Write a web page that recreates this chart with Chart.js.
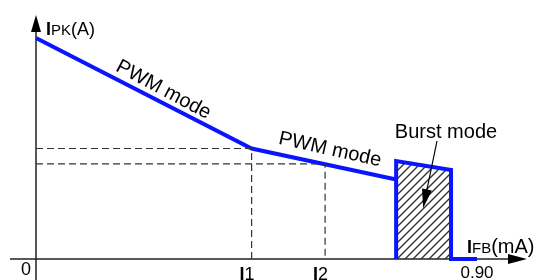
<!DOCTYPE html>
<html lang="en">
  <head>
    <meta charset="UTF-8" />
    <title>IPK vs IFB</title>
    <script src="https://cdn.jsdelivr.net/npm/chart.js"></script>
    <style>
      body { margin: 0; background: #fff; }
    </style>
  </head>
  <body>
    <canvas id="modeChart" width="543" height="280"></canvas>

    <script>
      // PWM mode curve (IFB in mA, IPK normalised)
      const pwmX = [0, 0.44, 0.735];
      const pwmY = [1.0, 0.5, 0.36];

      // burst mode block
      const burstX = [0.735, 0.735, 0.847, 0.847, 0.9];
      const burstY = [0, 0.443, 0.403, 0, 0];

      // dashed guides at I1 and I2
      const guideI1X = [0, 0.44, 0.44];
      const guideI1Y = [0.5, 0.5, 0];
      const guideI2X = [0, 0.59, 0.59];
      const guideI2Y = [0.43, 0.43, 0];

      const tickValues = [0.44, 0.59, 0.9];
      const tickLabels = [["I", "1"], ["I", "2"], ["", "0.90"]];

      const FONT = '"Liberation Sans", Arial, sans-serif';

      function pts(xs, ys) {
        return xs.map((x, i) => ({ x: x, y: ys[i] }));
      }

      // hatch pattern for the burst area
      const pc = document.createElement("canvas");
      pc.width = 8;
      pc.height = 8;
      const g = pc.getContext("2d");
      g.strokeStyle = "#333";
      g.lineWidth = 1.4;
      g.beginPath();
      g.moveTo(0, 8); g.lineTo(8, 0);
      g.moveTo(-2, 2); g.lineTo(2, -2);
      g.moveTo(6, 10); g.lineTo(10, 6);
      g.stroke();

      const ctx = document.getElementById("modeChart").getContext("2d");
      const hatch = ctx.createPattern(pc, "repeat");

      function rich(c, parts, x, y) {
        let cx = x;
        parts.forEach(([text, font]) => {
          c.font = font;
          c.fillText(text, cx, y);
          cx += c.measureText(text).width;
        });
      }

      const axesPlugin = {
        id: "axes",
        beforeDatasetsDraw(chart) {
          const c = chart.ctx;
          const xs = chart.scales.x, ys = chart.scales.y;
          const x0 = xs.getPixelForValue(0), y0 = ys.getPixelForValue(0);
          c.save();
          c.strokeStyle = "#222";
          c.fillStyle = "#000";
          c.lineWidth = 1.5;
          c.beginPath();
          c.moveTo(x0, 280);
          c.lineTo(x0, 28);
          c.moveTo(10, y0);
          c.lineTo(512, y0);
          c.stroke();
          // arrow heads
          c.beginPath();
          c.moveTo(x0, 15); c.lineTo(x0 - 5, 32); c.lineTo(x0 + 5, 32);
          c.closePath(); c.fill();
          c.beginPath();
          c.moveTo(527, y0); c.lineTo(508, y0 - 5); c.lineTo(508, y0 + 5);
          c.closePath(); c.fill();
          c.restore();
        },
        afterDatasetsDraw(chart) {
          const c = chart.ctx;
          const xs = chart.scales.x, ys = chart.scales.y;
          const px = (x, y) => [xs.getPixelForValue(x), ys.getPixelForValue(y)];
          c.save();
          c.fillStyle = "#000";
          c.textBaseline = "alphabetic";
          c.textAlign = "left";

          // axis titles
          rich(c, [["I", "bold 18px " + FONT], ["PK", "15px " + FONT], ["(A)", "18px " + FONT]], 46, 35);
          rich(c, [["I", "bold 18px " + FONT], ["FB", "15px " + FONT], ["(mA)", "20px " + FONT]], 467, 253);

          // origin and ticks
          c.textAlign = "center";
          c.font = "18px " + FONT;
          c.fillText("0", 26, 275);
          tickValues.forEach((v, i) => {
            const [tx] = px(v, 0);
            const [a, b] = tickLabels[i];
            if (a) {
              c.textAlign = "left";
              rich(c, [[a, "bold 18px " + FONT], [b, "18px " + FONT]], tx - 12, 280);
            } else {
              c.textAlign = "center";
              c.font = "17px " + FONT;
              c.fillText(b, tx, 278);
            }
          });

          // mode labels
          c.textAlign = "center";
          c.textBaseline = "middle";
          c.font = "20px " + FONT;
          let [lx, ly] = px(0.26, 0.765);
          c.save();
          c.translate(lx, ly);
          c.rotate((28 * Math.PI) / 180);
          c.fillText("PWM mode", 0, 0);
          c.restore();

          [lx, ly] = px(0.6, 0.495);
          c.save();
          c.translate(lx, ly);
          c.rotate((12.5 * Math.PI) / 180);
          c.fillText("PWM mode", 0, 0);
          c.restore();

          c.textBaseline = "alphabetic";
          c.fillText("Burst mode", 446, 138);

          // pointer into burst block
          const [ax, ay] = px(0.79, 0.23);
          const sx = 437, sy = 141;
          const dx = ax - sx, dy = ay - sy, len = Math.hypot(dx, dy);
          const ux = dx / len, uy = dy / len;
          c.strokeStyle = "#000";
          c.lineWidth = 1.2;
          c.beginPath();
          c.moveTo(sx, sy);
          c.lineTo(ax - ux * 16, ay - uy * 16);
          c.stroke();
          c.beginPath();
          c.moveTo(ax, ay);
          c.lineTo(ax - ux * 19 - uy * 5, ay - uy * 19 + ux * 5);
          c.lineTo(ax - ux * 19 + uy * 5, ay - uy * 19 - ux * 5);
          c.closePath();
          c.fill();
          c.restore();
        },
      };

      const dashed = {
        borderColor: "#333",
        borderWidth: 1.2,
        borderDash: [7, 4],
        pointRadius: 0,
        showLine: true,
        fill: false,
      };

      new Chart(ctx, {
        type: "scatter",
        data: {
          datasets: [
            {
              data: pts(burstX, burstY),
              borderColor: "#0a14ff",
              borderWidth: 4,
              borderJoinStyle: "miter",
              backgroundColor: hatch,
              fill: "origin",
              pointRadius: 0,
              showLine: true,
            },
            Object.assign({ data: pts(guideI1X, guideI1Y) }, dashed),
            Object.assign({ data: pts(guideI2X, guideI2Y) }, dashed),
            {
              data: pts(pwmX, pwmY),
              borderColor: "#0a14ff",
              borderWidth: 4,
              pointRadius: 0,
              showLine: true,
              fill: false,
            },
          ],
        },
        options: {
          responsive: false,
          devicePixelRatio: 1,
          animation: false,
          clip: false,
          layout: { padding: { left: 36, right: 66, top: 38, bottom: 21 } },
          scales: {
            x: { type: "linear", min: 0, max: 0.9, display: false },
            y: { type: "linear", min: 0, max: 1.0, display: false },
          },
          plugins: {
            legend: { display: false },
            tooltip: { enabled: false },
          },
        },
        plugins: [axesPlugin],
      });
    </script>
  </body>
</html>
